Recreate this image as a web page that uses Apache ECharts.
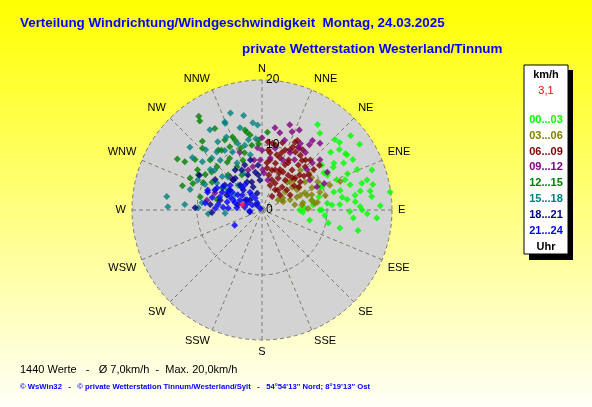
<!DOCTYPE html>
<html><head><meta charset="utf-8">
<script src="https://cdn.jsdelivr.net/npm/echarts@6/dist/echarts.min.js"></script>
<style>html,body{margin:0;padding:0;}#c{width:592px;height:407px;}</style>
</head><body><div id="c"></div>
<script>
// Direction names (angle axis tick labels)
const directions = ['N','NNE','NE','ENE','E','ESE','SE','SSE','S','SSW','SW','WSW','W','WNW','NW','NNW'];
const radiusTicks = [0, 10, 20];
// Legend entries (time ranges, Uhr)
const timeRanges = ['00...03','03...06','06...09','09...12','12...15','15...18','18...21','21...24'];
const rangeColors = ['#00ff00','#808000','#800000','#800080','#008000','#008080','#000080','#0000ff'];
const currentSpeed = '3,1';
// Data points: [speed km/h, direction degrees]
const s00_03 = [[15.7,33],[14.8,37],[17.8,50],[18.1,56],[13.8,50],[15.1,52],[15.6,57],[16.0,61],[17.5,77],[19.9,82],
  [14.1,95],[17.7,94],[10.4,101],[6.3,93],[7.9,84],[12.4,76],[15.4,79],[16.8,74],[11.5,60],[12.8,59],[14.3,67],[15.9,67],
  [12.4,68],[9.9,69],[13.2,83],[15.1,88],[16.9,80],[10.1,84],[13.5,91],[16.2,92],[5.8,90],[8.9,90],[12.0,86],[15.8,49],
  [15.5,56],[14.5,60],[13.2,57],[11.5,53],[11.4,62],[14.1,74],[15.9,75],[17.0,83],[9.6,68],[11.4,76],[12.5,81],[9.0,77],
  [7.8,79],[6.5,87],[10.8,86],[14.4,85],[9.2,90],[15.4,90],[11.1,59],[15.6,46],[13.6,70],[14.5,81],[9.7,95],[12.3,103],
  [15.1,102],[7.5,102],[18.0,70],[18.2,88]];
const s03_06 = [[3.4,63],[4.5,52],[5.8,53],[6.6,59],[7.9,57],[9.1,57],[5.7,70],[7.1,68],[8.4,66],[9.3,73],[6.2,83],[8.2,83],
  [12.8,70],[6.8,47],[5.8,42],[9.2,52],[8.5,44],[7.8,79],[3.7,60],[6.4,80],[6.2,60],[7.3,72],[3.5,69],[8.6,82],
  [4.6,70],[5.1,81],[7.1,88],[10.0,77],[11.1,70],[9.6,63],[6.1,45],[2.9,58],[6.3,69],[8.0,73]];
const s06_09 = [[10.4,9],[10.8,17],[11.6,26],[11.2,30],[7.5,16],[4.9,18],[3.7,33],[4.7,41],[7.7,37],[8.7,28],[9.8,39],[10.7,44],
  [11.2,52],[6.3,25],[5.8,38],[7.1,46],[6.3,14],[9.4,45],[8.9,8],[9.3,19],[10.3,30],[7.3,6],[5.5,11],[9.0,53],[6.7,58],[4.9,62],
  [10.5,5],[4.6,26],[3.9,39],[12.0,27],[11.2,34],[6.8,24],[7.8,27],[10.2,25],[8.8,15],[6.7,37],[7.9,47],
  [9.3,6],[10.2,12],[9.9,21],[10.8,26],[10.3,35],[7.8,9],[8.5,19],[8.3,29],[8.9,39],[10.2,41],[6.5,7],[6.5,18],[6.7,29],
  [6.8,43],[7.3,54],[4.0,18],[5.5,27],[4.9,51],[6.2,53],[8.3,51],[10.1,52],[3.6,50],[2.6,36]];
const s09_12 = [[13.8,18],[13.6,41],[12.2,13],[11.8,30],[8.1,9],[9.6,356],[7.7,358],[6.2,1],[9.8,26],[9.3,48],[9.2,67],[9.5,339],
  [8.6,280],[6.4,316],[6.8,348],[11.1,37],[10.6,47],[5.7,3],[11.1,31],[11.6,60],[10.4,67],[11.1,0],[7.7,290],[7.1,316],
  [11.3,18],[9.2,33],[9.7,12],[12.4,36],[12.8,9],[13.6,25],[13.2,36],[9.2,0],[8.3,23],[8.7,58],[4.7,11],[7.8,351],[6.5,341],
  [12.9,21],[11.8,49]];
const s12_15 = [[17.4,326],[16.7,325],[12.6,348],[12.2,349],[12.1,338],[12.2,332],[14.0,319],[13.2,316],[11.4,324],[10.9,333],
  [10.1,341],[15.2,301],[14.0,302],[11.7,302],[9.6,314],[9.4,328],[9.2,343],[10.1,351],[10.2,357],[7.7,330],[9.1,324],[8.2,339],
  [12.8,287],[11.4,291],[9.7,282],[11.2,299],[9.7,307],[7.1,283],[6.9,299],[8.8,299],[6.2,330],[10.0,295],[12.0,4],[10.8,357],
  [11.1,314],[12.9,307],[11.1,326],[11.5,339],[10.3,302],[12.1,294],[7.5,316],[11.7,351],[14.5,330]];
const s15_18 = [[15.7,342],[14.7,337],[13.5,354],[14.8,349],[14.5,337],[14.7,311],[13.4,307],[11.8,309],[12.5,327],[11.3,322],
  [11.1,316],[12.5,334],[10.9,340],[11.0,349],[11.0,355],[13.1,357],[14.8,278],[14.5,272],[9.8,272],[8.3,266],[5.7,265],
  [9.3,277],[8.0,310],[8.1,301],[6.1,301],[9.5,310],[7.3,314],[8.2,332],[6.4,333],[9.6,294],[4.8,299],
  [12.7,317],[10.1,308],[10.0,320],[10.0,333],[10.3,345],[10.8,328],[5.3,316],[10.9,295],[11.5,286],[11.9,274],[8.7,348],
  [13.1,345],[14.7,327]];
const s18_21 = [[11.0,299],[10.3,272],[7.7,267],[4.9,332],[3.8,339],[2.7,344],[2.4,310],[5.1,319],[6.4,316],[5.9,293],[1.1,315],
  [4.2,317],[5.4,354],[1.9,261],[5.9,350],[4.6,356],[5.8,302],[6.6,283],[3.0,301],[7.4,326],
  [8.6,303],[6.9,304],[6.4,320],[5.8,338],[4.6,340],[6.9,333],[8.0,276],[3.8,282],[6.9,355],[7.9,347],[7.4,339]];
const s21_24 = [[4.8,241],[1.9,265],[6.0,274],[8.8,288],[7.7,296],[6.2,308],[4.4,302],[2.8,304],[1.3,325],[4.3,285],[5.5,283],
  [6.8,287],[8.9,290],[7.0,301],[4.7,289],[2.5,295],[3.9,275],[6.8,277],[4.6,318],[4.7,326],[2.8,326],[5.9,298],
  [7.9,284],[6.7,294],[5.4,301],[3.8,307],[3.3,326],[2.1,330],[5.2,273],[3.7,294],[7.9,293],[2.7,280],[5.3,292],[0.4,315],
  [1.7,297],[8.8,277],[7.2,272]];
const current = [[3.1,285]];

const seriesData = [s00_03,s03_06,s06_09,s09_12,s12_15,s15_18,s18_21,s21_24];

const chart = echarts.init(document.getElementById('c'), null, {renderer:'canvas'});
const FONT = 'Liberation Sans, Arial, sans-serif';
const GRID = {color:'#7a7a7a', type:[4,3], width:1};

const series = seriesData.map((d,i)=>({
  type:'scatter', coordinateSystem:'polar', polarIndex:1, name:timeRanges[i], data:d,
  symbol:'diamond', symbolSize:7, itemStyle:{color:rangeColors[i]}, silent:true, z:3
}));
series.push({type:'scatter', coordinateSystem:'polar', polarIndex:1, name:'aktuell', data:current,
  symbol:'diamond', symbolSize:7, itemStyle:{color:'#ff0060'}, silent:true, z:5});

const legendGraphics = [
  {type:'rect', shape:{x:529,y:70,width:44,height:190}, style:{fill:'#000'}, z:1},
  {type:'rect', shape:{x:524,y:65,width:44,height:189}, style:{fill:'#fff', stroke:'#000', lineWidth:1}, z:2},
  {type:'text', x:546, y:75, style:{text:'km/h', fill:'#000', font:'bold 11px '+FONT, textAlign:'center', textVerticalAlign:'middle'}, z:3},
  {type:'text', x:546, y:91, style:{text:currentSpeed, fill:'#ff0000', font:'11px '+FONT, textAlign:'center', textVerticalAlign:'middle'}, z:3},
  {type:'text', x:546, y:247, style:{text:'Uhr', fill:'#000', font:'bold 11px '+FONT, textAlign:'center', textVerticalAlign:'middle'}, z:3}
];
timeRanges.forEach((t,i)=>{
  legendGraphics.push({type:'text', x:546, y:120+i*15.8, style:{text:t, fill:rangeColors[i], font:'bold 11px '+FONT, textAlign:'center', textVerticalAlign:'middle'}, z:3});
});

const polarCfg = {center:[262,210], radius:130};
const hiddenAngle = (idx, z) => ({polarIndex:idx, type:'value', min:0, max:360, interval:22.5, startAngle:90, clockwise:true, z:z,
  axisLine:{show:false}, axisTick:{show:false}, axisLabel:{show:false}, splitLine:{show:false}, splitArea:{show:false}});

const angle0 = hiddenAngle(0, 0);
angle0.splitArea = {show:true, areaStyle:{color:['#d3d3d3','#d3d3d3'], opacity:1}};
const angle1 = hiddenAngle(1, 1);
angle1.splitLine = {show:true, lineStyle:GRID};
angle1.axisLabel = {show:true, margin:6, color:'#000', fontSize:11, fontFamily:FONT,
  formatter:v=> v>=360 ? '' : directions[Math.round(v/22.5)%16]};
const angle2 = hiddenAngle(2, 10);

chart.setOption({
  animation:false,
  backgroundColor:{type:'linear',x:0,y:0,x2:0,y2:1,colorStops:[{offset:0,color:'#ffff00'},{offset:1,color:'#fffff8'}]},
  title:[
    {text:'Verteilung Windrichtung/Windgeschwindigkeit  Montag, 24.03.2025', left:15, top:12,
     textStyle:{color:'#0000ff', fontWeight:'bold', fontSize:13.4, fontFamily:FONT}},
    {text:'private Wetterstation Westerland/Tinnum', left:237, top:38,
     textStyle:{color:'#0000ff', fontWeight:'bold', fontSize:13.4, fontFamily:FONT}},
    {text:'1440 Werte   -   Ø 7,0km/h  -  Max. 20,0km/h', left:15, top:359,
     textStyle:{color:'#000', fontWeight:'normal', fontSize:11, fontFamily:FONT}},
    {text:"© WsWin32   -   © private Wetterstation Tinnum/Westerland/Sylt   -   54°54'13'' Nord; 8°19'13'' Ost", left:15, top:378,
     textStyle:{color:'#0000ff', fontWeight:'bold', fontSize:7.7, fontFamily:FONT}}
  ],
  polar:[polarCfg, polarCfg, polarCfg],
  angleAxis:[angle0, angle1, angle2],
  radiusAxis:[
    {polarIndex:0, type:'value', min:radiusTicks[0], max:radiusTicks[2], interval:10, z:0,
     axisLine:{show:false}, axisTick:{show:false}, axisLabel:{show:false}, splitLine:{show:false}},
    {polarIndex:1, type:'value', min:radiusTicks[0], max:radiusTicks[2], interval:10, z:1,
     axisLine:{show:false}, axisTick:{show:false}, axisLabel:{show:false},
     splitLine:{show:true, lineStyle:GRID}},
    {polarIndex:2, type:'value', min:radiusTicks[0], max:radiusTicks[2], interval:10, z:10,
     axisLine:{show:false}, axisTick:{show:false}, splitLine:{show:false},
     axisLabel:{color:'#000', fontSize:12, fontFamily:FONT, margin:-4, align:'left',
       formatter:v=> radiusTicks.indexOf(v)>=0 ? String(v) : ''}}
  ],
  graphic:legendGraphics,
  series:series
});
</script></body></html>
